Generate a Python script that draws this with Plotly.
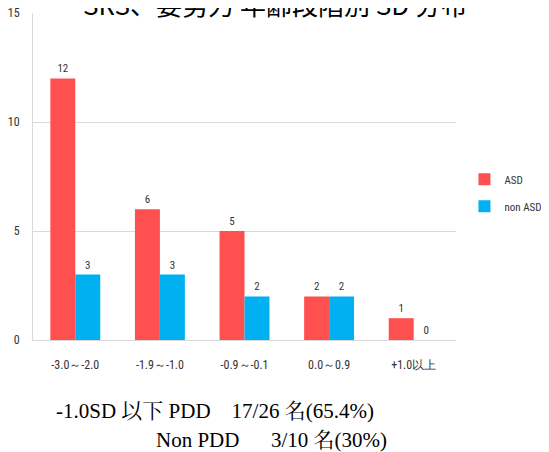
import plotly.graph_objects as go

# Categorias (faixas de SD) e contagens por grupo
categorias = ["-3.0～-2.0", "-1.9～-1.0", "-0.9～-0.1", "0.0～0.9", "+1.0以上"]
asd = [12, 6, 5, 2, 1]
non_asd = [3, 3, 2, 2, 0]
ticks_y = [0, 5, 10, 15]

titulo = "SRS、要努力 年齢段階別 SD 分布"
nota_1 = "-1.0SD 以下 PDD　17/26 名(65.4%)"
nota_2 = "Non PDD　\u00a0\u00a03/10 名(30%)"

COR_ASD = "#FF5050"
COR_NON = "#00B0F0"
FONTE_EIXO = "Liberation Sans Narrow, Arial Narrow, Roboto Condensed, sans-serif"
FONTE_SERIF = "Liberation Serif, Noto Serif CJK JP, Noto Sans CJK JP, serif"

fig = go.Figure()
for nome, valores, cor in (("ASD", asd, COR_ASD), ("non ASD", non_asd, COR_NON)):
    fig.add_trace(
        go.Bar(
            x=categorias,
            y=valores,
            name=nome,
            legendgroup=nome,
            marker={"color": cor, "line": {"width": 0}},
            text=valores,
            textposition="outside",
            textfont={"family": FONTE_EIXO, "size": 11, "color": "#333333"},
            cliponaxis=False,
        )
    )

# A pagina tem margem de 8px no body: margens compensadas.
fig.update_layout(
    width=549,
    height=452,
    barmode="group",
    bargap=0.41,
    bargroupgap=0,
    paper_bgcolor="white",
    plot_bgcolor="white",
    margin={"l": 25, "r": 101, "t": 5, "b": 120},
    font={"family": FONTE_EIXO, "size": 12, "color": "#333333"},
    legend={
        "x": 1.02,
        "y": 0.45,
        "xanchor": "left",
        "yanchor": "middle",
        "font": {"size": 11, "color": "#333333"},
        "itemwidth": 30,
        "tracegroupgap": 8,
    },
    showlegend=True,
)
fig.update_yaxes(
    range=[0, 15],
    tickvals=ticks_y,
    showgrid=True,
    gridcolor="#D9D9D9",
    zeroline=False,
    showline=True,
    linecolor="#D9D9D9",
    ticks="",
    automargin=False,
    ticklabeloverflow="allow",
    ticklabelstandoff=10,
    tickfont={"size": 12, "color": "#333333"},
)
fig.update_xaxes(
    showline=True,
    linecolor="#D9D9D9",
    ticks="",
    automargin=False,
    ticklabeloverflow="allow",
    tickfont={"size": 12, "color": "#333333"},
    ticklabelstandoff=14,
)

# Titulo cortado no topo, como na imagem original
fig.add_annotation(
    xref="paper", yref="paper", x=0.572, y=1.0, yshift=-11,
    xanchor="center", yanchor="bottom", showarrow=False,
    text=titulo, font={"family": "Noto Sans CJK JP", "size": 26, "color": "#000000"},
)
fig.add_annotation(
    xref="paper", yref="paper", x=0.05, y=-0.216,
    xanchor="left", yanchor="middle", showarrow=False,
    text=nota_1, font={"family": FONTE_SERIF, "size": 21, "color": "#000000"},
)
fig.add_annotation(
    xref="paper", yref="paper", x=0.287, y=-0.305,
    xanchor="left", yanchor="middle", showarrow=False,
    text=nota_2, font={"family": FONTE_SERIF, "size": 21, "color": "#000000"},
)

fig.write_html("out.html")
